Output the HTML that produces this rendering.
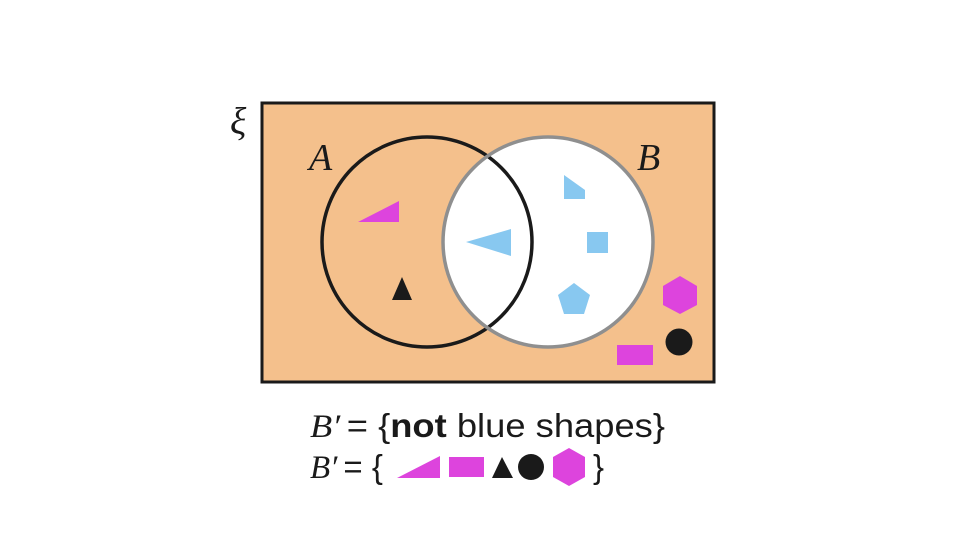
<!DOCTYPE html>
<html><head><meta charset="utf-8"><style>
html,body{margin:0;padding:0;background:#fff;}
svg{display:block}
.ser{font-family:"Liberation Serif",serif;font-style:italic}
.san{font-family:"Liberation Sans","DejaVu Sans",sans-serif}
</style></head><body>
<svg width="976" height="549" viewBox="0 0 976 549">
<rect x="262" y="103" width="452" height="279" fill="#f4c08c" stroke="#1a1a1a" stroke-width="3"/>
<text x="230" y="134" class="ser" font-size="38" font-style="normal" fill="#1a1a1a">ξ</text>
<circle cx="548" cy="242" r="105" fill="#fff"/>
<circle cx="427" cy="242" r="105" fill="none" stroke="#1a1a1a" stroke-width="3.5"/>
<circle cx="548" cy="242" r="105" fill="none" stroke="#8f8f8f" stroke-width="3.5"/>
<text x="309" y="170" class="ser" font-size="38" fill="#1a1a1a">A</text>
<text x="637" y="170" class="ser" font-size="38" fill="#1a1a1a">B</text>
<polygon points="358,222 399,201 399,222" fill="#dd44dd"/>
<polygon points="392,300 402,277 412,300" fill="#1a1a1a"/>
<polygon points="466,242 511,229 511,256" fill="#88c8f0"/>
<polygon points="564,175 564,199 585,199 585,190" fill="#88c8f0"/>
<rect x="587" y="232" width="21" height="21" fill="#88c8f0"/>
<polygon points="574,283 590,295 584,314 564,314 558,295" fill="#88c8f0"/>
<polygon points="680,276 697,286 697,305 680,314 663,305 663,286" fill="#dd44dd"/>
<circle cx="679" cy="342" r="13.5" fill="#1a1a1a"/>
<rect x="617" y="345" width="36" height="20" fill="#dd44dd"/>
<text x="310" y="437" font-size="33" fill="#1a1a1a" textLength="355" lengthAdjust="spacingAndGlyphs"><tspan class="ser">B′</tspan><tspan class="san" dx="6">= {</tspan><tspan class="san" font-weight="bold">not</tspan><tspan class="san"> blue shapes}</tspan></text>
<text x="310" y="478" font-size="33" fill="#1a1a1a"><tspan class="ser">B′</tspan><tspan class="san" dx="6">= {</tspan></text>
<polygon points="397,478 440,456 440,478" fill="#dd44dd"/>
<rect x="449" y="457" width="35" height="20" fill="#dd44dd"/>
<polygon points="492,478 502,457 513,478" fill="#1a1a1a"/>
<circle cx="531" cy="467" r="13" fill="#1a1a1a"/>
<polygon points="569,448 585,457 585,477 569,486 553,477 553,457" fill="#dd44dd"/>
<text x="593" y="478" class="san" font-size="33" fill="#1a1a1a">}</text>
</svg>
</body></html>
